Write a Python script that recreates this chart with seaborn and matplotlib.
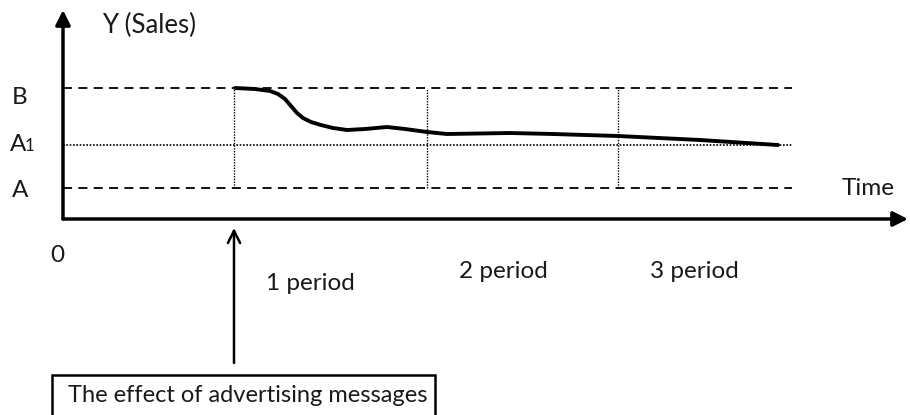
"""Sales response to advertising over time — schematic diagram."""
import matplotlib.pyplot as plt
import numpy as np
import pandas as pd
import seaborn as sns
from matplotlib.patches import Rectangle

sns.set_theme(style="white")
plt.rcParams["font.family"] = ["Lato", "DejaVu Sans"]

# levels of sales
level_names = ["A", "A1", "B"]
level_values = [31, 74, 131]

# period boundaries on the time axis
period_starts = [171, 364, 555]
period_labels = ["1 period", "2 period", "3 period"]
line_end = 729

# sales curve
time_pts = [172, 192, 207, 215, 222, 228, 234, 240, 248, 258, 270, 284, 302,
            324, 342, 364, 384, 447, 490, 555, 637, 715]
sales_pts = [131, 130, 128, 125, 120, 113, 106, 101, 97, 94, 91, 89, 90,
             92, 90, 87, 85, 86, 85, 83, 79, 74]

curve = pd.DataFrame({"time": time_pts, "sales": sales_pts})

fig = plt.figure(figsize=(9.1, 4.15), dpi=100)
ax = fig.add_axes([0, 0, 1, 1])
ax.set_xlim(-63, 847)
ax.set_ylim(-196, 219)
ax.axis("off")

A, A1, B = level_values

# reference levels
ax.hlines([A, B], 0, line_end, colors="black", linestyles=(0, (5, 3.5)), lw=1.3)
ax.hlines(A1, 0, line_end, colors="black", linestyles=(0, (1, 1)), lw=1.2)
ax.vlines(period_starts, A, B, colors="black", linestyles=(0, (1, 1)), lw=1.0)

sns.lineplot(data=curve, x="time", y="sales", color="black", lw=2.8, ax=ax,
             legend=False)

# axes with arrow heads
axis_kw = dict(arrowstyle="-|>", lw=2.5, color="black", mutation_scale=22,
               shrinkA=0, shrinkB=0)
ax.annotate("", xy=(0, 209), xytext=(0, 0), arrowprops=axis_kw)
ax.annotate("", xy=(845, 0), xytext=(0, 0), arrowprops=axis_kw)

fs = 17.5
txt = "#1a1a1a"
ax.text(39, 194, "Y (Sales)", fontsize=18.5, color=txt, ha="left", va="center")
ax.text(-43, 122, "B", fontsize=fs, color=txt, ha="center", va="center")
ax.text(-53, 68, "A", fontsize=fs, color=txt, ha="left", va="baseline")
ax.text(-38, 68, "1", fontsize=fs * 0.7, color=txt, ha="left", va="baseline")
ax.text(-43, 29, "A", fontsize=fs, color=txt, ha="center", va="center")
ax.text(-6, -36, "0", fontsize=fs, color=txt, ha="center", va="center")
ax.text(779, 31, "Time", fontsize=fs, color=txt, ha="left", va="center")

label_y = [-64, -52, -52]
for t, lab, y in zip(period_starts, period_labels, label_y):
    ax.text(t + 32, y, lab, fontsize=fs, color=txt, ha="left", va="center")

# advertising effect arrow and box
ax.annotate("", xy=(period_starts[0], -9), xytext=(period_starts[0], -144),
            arrowprops=dict(arrowstyle="->", lw=1.8, color="black",
                            mutation_scale=22, shrinkA=0, shrinkB=0))
ax.add_patch(Rectangle((-11, -200), 383, 44, fill=False, ec="black", lw=1.8,
                       clip_on=False))
ax.text(5, -176, "The effect of advertising messages", fontsize=17,
        color=txt, ha="left", va="center")

fig.savefig("out.png", dpi=100)
